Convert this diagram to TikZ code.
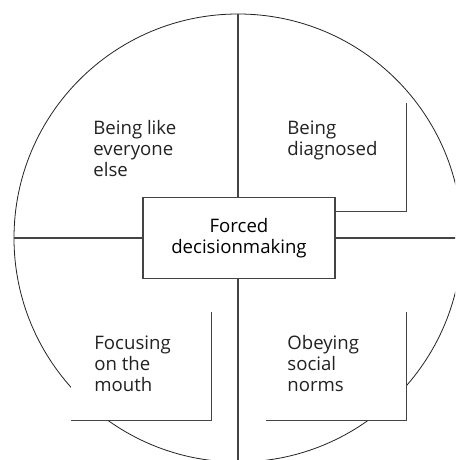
\documentclass[tikz,border=0pt]{standalone}
\usepackage{fontspec}
\setmainfont{Open Sans}
\usetikzlibrary{positioning}
\definecolor{InkDark}{HTML}{222222}
\definecolor{InkLine}{HTML}{444444}

\begin{document}
\begin{tikzpicture}[x=0.5pt, y=0.5pt,
  wl/.style={line width=0.6pt, draw=InkLine},
  ring/.style={line width=0.4pt, draw=InkDark},
  bracket/.style={fill=white, minimum width=70pt, minimum height=54pt, inner sep=0pt},
  hub/.style={draw=InkLine, fill=white, line width=0.6pt, minimum width=96pt, minimum height=40.5pt, align=center, inner sep=0pt},
  lbl/.style={align=left, anchor=base west, inner sep=0pt, text=InkDark},
  every node/.style={font=\fontsize{9.3}{10.6}\selectfont},
]
\useasboundingbox (-238,-222) rectangle (217,238);
\clip (-238,-222) rectangle (217,238);
% outer ring and the two axes
\draw[ring] (0,0) circle (224);
\coordinate (top) at (0,224);
\coordinate (bot) at (0,-224);
\coordinate (lft) at (-224,0);
\coordinate (rgt) at (224,0);
\draw[wl] (top) -- (bot);
\draw[wl] (lft) -- (rgt);
% open corner brackets
\foreach \n/\x/\y in {bUR/98/81, bLL/-97/-128, bLR/98/-128}{
  \node[bracket] (\n) at (\x,\y) {};
  \draw[wl] (\n.north east) -- (\n.south east) -- (\n.south west);
}
\node[hub] (hub) at (1,0) {Forced\\decisionmaking};
% quadrant labels (base = last line)
\node[lbl] (qUL) at (-145,61) {Being like\\everyone\\else};
\node[lbl] (qUR) at (49,82) {Being\\diagnosed};
\node[lbl] (qLL) at (-144,-154) {Focusing\\on the\\mouth};
\node[lbl] (qLR) at (49,-154) {Obeying\\social\\norms};
\end{tikzpicture}
\end{document}
